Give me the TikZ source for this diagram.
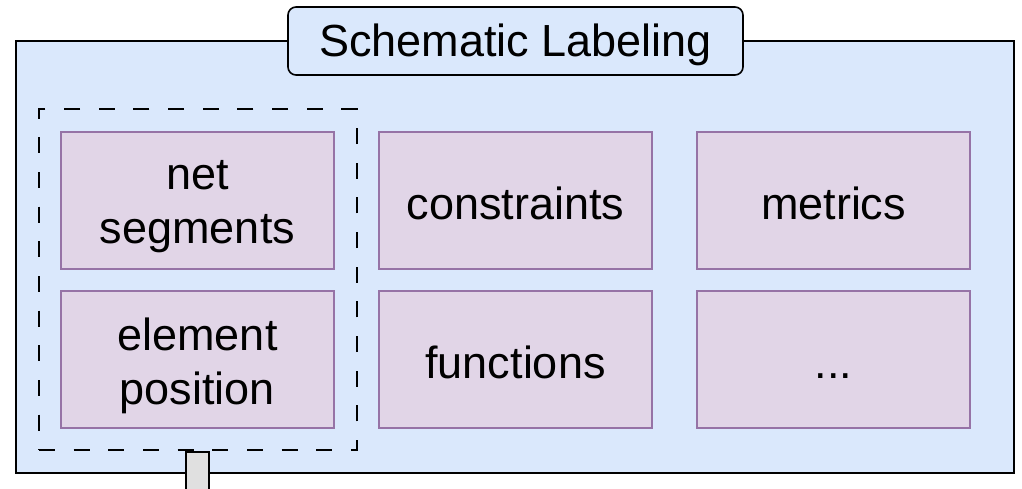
\documentclass[tikz,border=0pt]{standalone}
\usepackage{fontspec}
\setmainfont{Liberation Sans}
\definecolor{frameblue}{HTML}{DAE8FC}
\definecolor{boxfill}{HTML}{E1D5E7}
\definecolor{boxline}{HTML}{9673A6}
\definecolor{stubgray}{HTML}{E0E0E0}
\begin{document}
\begin{tikzpicture}[x=0.75pt,y=-0.75pt,
  frame/.style={draw=black, line width=1.5pt, fill=frameblue, inner sep=0pt, minimum width=748.5pt, minimum height=324pt},
  titlebox/.style={draw=black, line width=1.2pt, fill=frameblue, rounded corners=6pt, inner sep=0pt, minimum width=341.25pt, minimum height=51pt},
  itembox/.style={draw=boxline, line width=1.2pt, fill=boxfill, inner sep=0pt, minimum width=204.75pt, minimum height=102.75pt},
  txt/.style={align=center, inner sep=0pt, font=\fontsize{33.75}{40.5}\selectfont},
  groupbox/.style={draw=black, line width=1.3pt, dash pattern=on 12pt off 14pt, inner sep=0pt, minimum width=238.5pt, minimum height=255.75pt},
  stubbox/.style={draw=black, line width=1.2pt, fill=stubgray, inner sep=0pt, minimum width=17.25pt, minimum height=36pt}
]
\useasboundingbox (0,0) rectangle (1022,489);
\clip (0,0) rectangle (1022,489);
\node[frame] (frame) at (515,257) {};
\node[stubbox] (stub) at (197.5,476) {};
\node[titlebox, label={[txt, yshift=-3.2pt]center:Schematic Labeling}] (title) at (515.5,41) {};
\node[itembox, label={[txt, yshift=-4.5pt]center:{net\\segments}}] (ns) at (197.5,200.5) {};
\node[itembox, label={[txt, yshift=-2pt]center:constraints}] (cons) at (515.5,200.5) {};
\node[itembox, label={[txt, yshift=-2pt]center:metrics}] (met) at (833.5,200.5) {};
\node[itembox, label={[txt, yshift=-4.5pt]center:{element\\position}}] (ep) at (197.5,359.5) {};
\node[itembox, label={[txt, yshift=-2pt]center:functions}] (fun) at (515.5,359.5) {};
\node[itembox, label={[txt, yshift=-2pt]center:{\vphantom{metrics}...}}] (dots) at (833.5,359.5) {};
\node[groupbox] (group) at (198,279.5) {};
\end{tikzpicture}
\end{document}
